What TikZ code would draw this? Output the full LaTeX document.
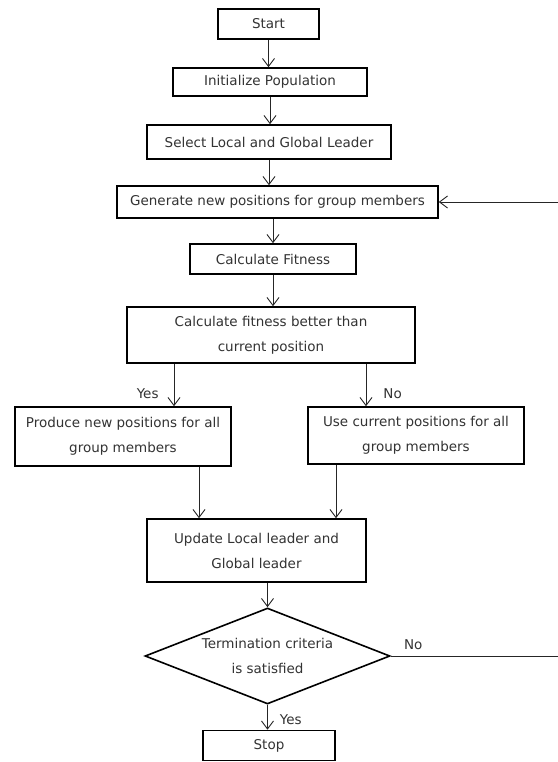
\documentclass[tikz,border=0pt]{standalone}
\usepackage{fontspec}
\setmainfont{DejaVu Sans}
\usetikzlibrary{arrows.meta,shapes.geometric}

\begin{document}
\begin{tikzpicture}[x=1pt,y=-1pt]
	\fill[white] (0,0) rectangle (557,762);
	\useasboundingbox (0,0) rectangle (557,762);
	\begin{scope}[every node/.style={draw,line width=1.6pt,inner sep=0pt,align=center,
				text=black!80,font=\fontsize{13.5}{25}\selectfont}]
		% main column
		\node[minimum width=101pt,minimum height=30pt] (start) at (268.5,24) {Start};
		\node[minimum width=194pt,minimum height=28pt] (init) at (270,82) {Initialize Population};
		\node[minimum width=244pt,minimum height=34pt] (select) at (269,142) {Select Local and Global Leader};
		\node[minimum width=321pt,minimum height=32pt] (gen) at (277.5,202) {Generate new positions for group members};
		\node[minimum width=166pt,minimum height=30pt] (fit) at (273,259) {Calculate Fitness};
		\node[minimum width=288pt,minimum height=56pt] (better) at (271,335) {Calculate fitness better than\\current position};
		% branches
		\node[minimum width=216pt,minimum height=59pt] (produce) at (123,436.5) {Produce new positions for all\\group members};
		\node[minimum width=216pt,minimum height=57pt] (use) at (416,435.5) {Use current positions for all\\group members};
		% merge
		\node[minimum width=219pt,minimum height=63pt] (update) at (256.5,550.5) {Update Local leader and\\Global leader};
		\node[diamond,aspect=2.55,minimum width=245pt,minimum height=96pt] (term) at (267.5,656) {Termination criteria\\is satisfied};
		\node[minimum width=132pt,minimum height=30pt] (stop) at (269,745.5) {Stop};
	\end{scope}

	\coordinate (loop) at (566,202);

	\begin{scope}[>={Straight Barb[length=8pt,width=12pt]},
				lbl/.style={inner sep=0pt,text=black!80,font=\fontsize{13.5}{16}\selectfont},
				every edge/.style={draw=black!85,line width=0.9pt}]
		\path [->] (start) edge (start |- init.north);
		\path [->] (init) edge (init |- select.north);
		\path [->] (select) edge (select |- gen.north);
		\path [->] (fit |- gen.south) edge (fit);
		\path [->] (fit) edge (fit |- better.north);

		\path [->] ([xshift=-97pt]better.south) edge node[lbl,pos=0.7,anchor=east,xshift=-15pt] {Yes} ([xshift=-97pt]better.south |- produce.north);
		\path [->] ([xshift=95pt]better.south) edge node[lbl,pos=0.7,anchor=west,xshift=17pt] {No} ([xshift=95pt]better.south |- use.north);

		\path [->] ([xshift=76pt]produce.south) edge ([xshift=76pt]produce.south |- update.north);
		\path [->] ([xshift=-80pt]use.south) edge ([xshift=-80pt]use.south |- update.north);

		\path [->] (term |- update.south) edge (term.north);
		\path [->] (term.south) edge node[lbl,pos=0.58,anchor=west,xshift=12pt] {Yes} (term.south |- stop.north);

		\path [->] (term.east) edge[to path={-| (loop) -- (\tikztotarget)}] (gen.east);
		\node[lbl,anchor=west] (nolbl) at ([xshift=13pt,yshift=11pt]term.east) {No};
	\end{scope}
\end{tikzpicture}
\end{document}
